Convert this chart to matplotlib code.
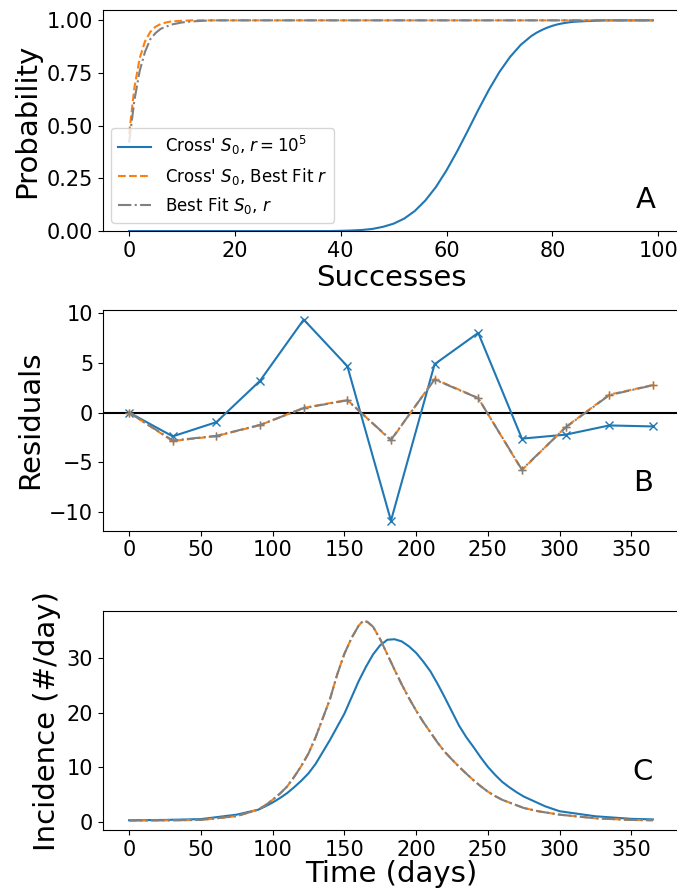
import numpy as np
import matplotlib
matplotlib.use("Agg")
import matplotlib.pyplot as plt

# panel A: cumulative probability vs successes
succ_blue = [0, 20, 38, 40, 42, 44, 46, 48, 50, 52, 54, 56, 58, 60, 62, 64, 66, 68,
             70, 72, 74, 76, 77, 78, 79, 80, 81, 82, 83, 84, 86, 88, 90, 99]
prob_blue = [0.0, 0.0, 0.0, 0.001, 0.0025, 0.005, 0.010, 0.020, 0.035, 0.059, 0.095,
             0.145, 0.209, 0.288, 0.378, 0.475, 0.575, 0.670, 0.755, 0.826, 0.883,
             0.925, 0.941, 0.954, 0.965, 0.974, 0.981, 0.986, 0.990, 0.993, 0.996,
             0.998, 1.0, 1.0]
succ_orange = [0, 1, 2, 3, 4, 5, 6, 7, 8, 10, 12, 99]
prob_orange = [0.46, 0.68, 0.82, 0.90, 0.945, 0.97, 0.983, 0.99, 0.995, 0.998, 1.0, 1.0]
succ_gray = [0, 1, 2, 3, 4, 5, 6, 7, 8, 9, 10, 12, 14, 16, 99]
prob_gray = [0.42, 0.62, 0.76, 0.85, 0.91, 0.94, 0.96, 0.97, 0.98, 0.985, 0.99,
             0.995, 0.998, 1.0, 1.0]

# panel B: residuals at monthly points
res_days = [0, 30.4, 60.8, 91.25, 121.7, 152.1, 182.5, 212.9, 243.3, 273.75,
            304.2, 334.6, 365]
res_blue = [0.0, -2.4, -0.97, 3.2, 9.37, 4.67, -10.9, 4.87, 8.03, -2.63, -2.23, -1.3, -1.4]
res_orange = [0.0, -2.87, -2.37, -1.27, 0.47, 1.27, -2.8, 3.37, 1.47, -5.8, -1.47, 1.8, 2.77]
res_gray = [0.0, -2.82, -2.35, -1.25, 0.45, 1.23, -2.75, 3.33, 1.45, -5.75, -1.5, 1.75, 2.75]

# panel C: incidence curves
inc_days_blue = [0, 25, 50, 75, 90, 95, 100, 105, 110, 115, 120, 125, 130, 135, 140,
                 145, 150, 155, 160, 165, 170, 175, 180, 185, 190, 195, 200, 205, 210,
                 215, 220, 225, 230, 235, 240, 245, 250, 255, 260, 265, 270, 275, 280,
                 290, 300, 325, 350, 365]
inc_blue = [0.24, 0.3, 0.45, 1.27, 2.18, 2.8, 3.5, 4.3, 5.2, 6.3, 7.5, 8.85, 10.6, 12.8,
            15.0, 17.4, 19.8, 22.8, 25.8, 28.4, 30.7, 32.4, 33.4, 33.5, 33.1, 32.2, 31.0,
            29.4, 27.6, 25.3, 22.8, 20.2, 17.6, 15.5, 13.7, 11.8, 10.06, 8.6, 7.3, 6.3,
            5.4, 4.6, 4.0, 2.8, 1.9, 0.97, 0.5, 0.4]
inc_days_fit = [0, 25, 50, 75, 90, 95, 100, 105, 110, 115, 120, 125, 130, 135, 140, 145,
                150, 155, 160, 163, 166, 170, 175, 180, 185, 190, 195, 200, 205, 210,
                215, 220, 225, 230, 235, 240, 245, 250, 255, 260, 270, 275, 285, 300,
                325, 350, 365]
inc_orange = [0.2, 0.22, 0.3, 1.0, 2.2, 3.0, 4.0, 5.1, 6.4, 8.2, 10.2, 12.5, 15.5, 19.0,
              22.5, 27.0, 30.8, 33.7, 36.0, 36.85, 36.7, 35.8, 33.5, 30.7, 27.9, 25.2,
              22.7, 20.4, 18.3, 16.4, 14.5, 12.8, 11.4, 10.06, 8.8, 7.6, 6.5, 5.5, 4.7,
              4.0, 3.0, 2.5, 1.9, 1.27, 0.6, 0.3, 0.24]
inc_gray = inc_orange

labels = [r"Cross' $S_0$, $r = 10^5$", r"Cross' $S_0$, Best Fit $r$", r"Best Fit $S_0$, $r$"]

fig = plt.figure(figsize=(6.77, 8.92), dpi=100)
axA = fig.add_axes([0.152, 0.741, 0.851, 0.248])
axB = fig.add_axes([0.152, 0.405, 0.851, 0.248])
axC = fig.add_axes([0.152, 0.069, 0.851, 0.246])

axA.plot(succ_blue, prob_blue, '-', color='tab:blue', label=labels[0])
axA.plot(succ_orange, prob_orange, '--', color='tab:orange', label=labels[1])
axA.plot(succ_gray, prob_gray, '-.', color='gray', label=labels[2])
axA.set_ylim(0, 1.05)
axA.set_yticks([0, 0.25, 0.5, 0.75, 1.0])
axA.set_yticklabels(['0.00', '0.25', '0.50', '0.75', '1.00'])
axA.set_xticks([0, 20, 40, 60, 80, 100])
axA.set_xlabel('Successes', fontsize=21, labelpad=2)
axA.set_ylabel('Probability', fontsize=21)
axA.legend(loc='lower left', fontsize=12)
axA.text(0.942, 0.14, 'A', transform=axA.transAxes, fontsize=21, ha='center', va='center')

axB.axhline(0, color='black', lw=1.5)
axB.plot(res_days, res_blue, '-x', color='tab:blue')
axB.plot(res_days, res_orange, '--+', color='tab:orange')
axB.plot(res_days, res_gray, '-.+', color='gray')
axB.set_yticks([-10, -5, 0, 5, 10])
axB.set_xticks([0, 50, 100, 150, 200, 250, 300, 350])
axB.set_ylabel('Residuals', fontsize=21)
axB.text(0.937, 0.217, 'B', transform=axB.transAxes, fontsize=21, ha='center', va='center')

axC.plot(inc_days_blue, inc_blue, '-', color='tab:blue')
axC.plot(inc_days_fit, inc_orange, '--', color='tab:orange')
axC.plot(inc_days_fit, inc_gray, '-.', color='gray')
axC.set_yticks([0, 10, 20, 30])
axC.set_xticks([0, 50, 100, 150, 200, 250, 300, 350])
axC.set_xlabel('Time (days)', fontsize=21, labelpad=0)
axC.set_ylabel('Incidence (#/day)', fontsize=21)
axC.text(0.937, 0.267, 'C', transform=axC.transAxes, fontsize=21, ha='center', va='center')

for ax in (axA, axB, axC):
    ax.tick_params(labelsize=15)

fig.savefig('out.png', dpi=100)
